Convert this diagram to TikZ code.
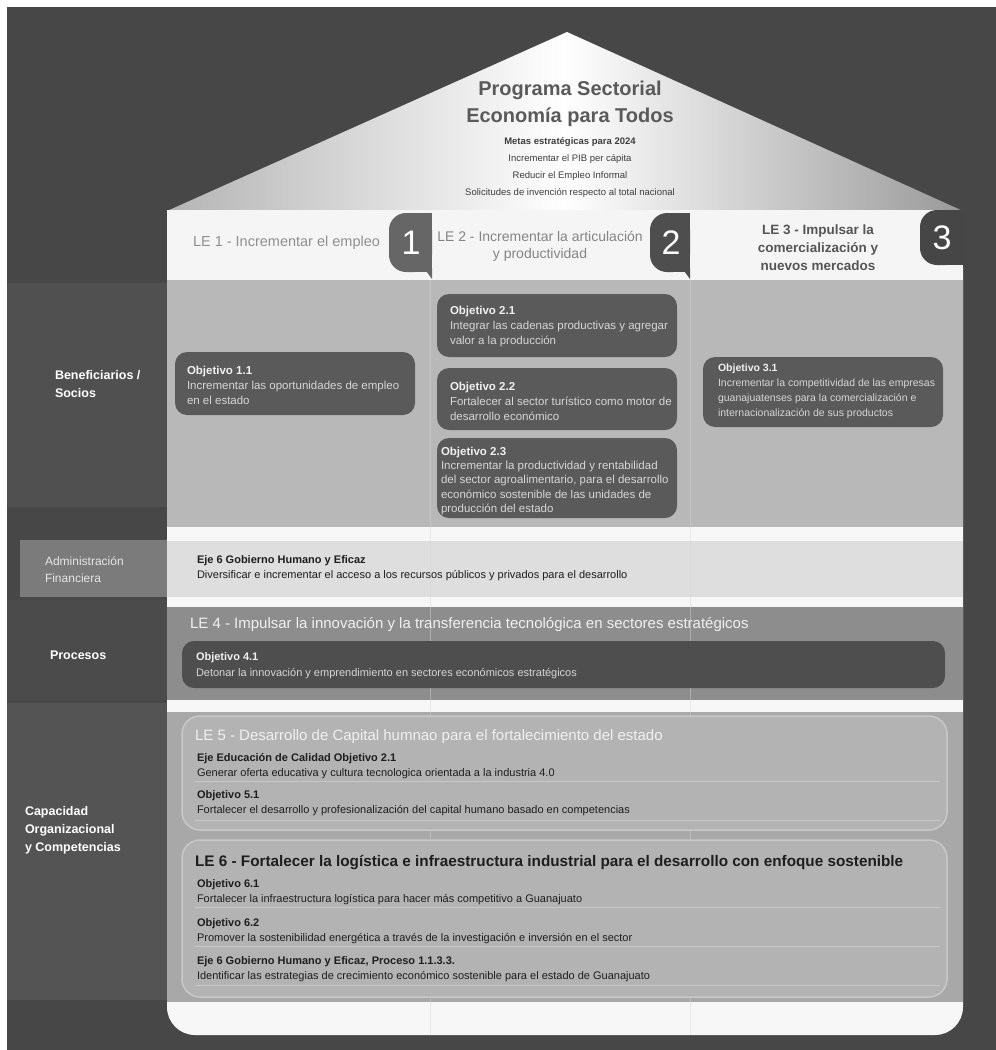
\documentclass[tikz,border=0pt]{standalone}
\usepackage{fontspec}
\setmainfont{Liberation Sans}
\definecolor{bgdark}{HTML}{474747}
\definecolor{lblA}{HTML}{505050}
\definecolor{lblAdm}{HTML}{7B7B7B}
\definecolor{lblProc}{HTML}{4B4B4B}
\definecolor{lblCap}{HTML}{545454}
\definecolor{roofgray}{HTML}{B4B4B4}
\definecolor{basewhite}{HTML}{F7F7F7}
\definecolor{headband}{HTML}{F5F5F5}
\definecolor{benef}{HTML}{B8B8B8}
\definecolor{admfill}{HTML}{DEDEDE}
\definecolor{procfill}{HTML}{8D8D8D}
\definecolor{capfill}{HTML}{A8A8A8}
\definecolor{panelfill}{HTML}{B3B3B3}
\definecolor{panelline}{HTML}{C8C8C8}
\definecolor{objfill}{HTML}{5A5A5A}
\definecolor{obj4fill}{HTML}{4E4E4E}
\definecolor{tabA}{HTML}{666666}
\definecolor{tabB}{HTML}{4E4E4E}
\definecolor{tabC}{HTML}{464646}
\definecolor{titlegray}{HTML}{5A5A5A}
\definecolor{metasgray}{HTML}{3E3E3E}
\definecolor{leA}{HTML}{909090}
\definecolor{leB}{HTML}{858585}
\definecolor{leC}{HTML}{555555}
\definecolor{objhead}{HTML}{F0F0F0}
\definecolor{objbody}{HTML}{D6D6D6}
\definecolor{darktext}{HTML}{1E1E1E}
\definecolor{sepc}{HTML}{D4D4D4}
\begin{document}
\begin{tikzpicture}[x=1pt,y=-1pt,
  txt/.style={inner sep=0pt, outer sep=0pt, align=left, anchor=north west},
  ctxt/.style={inner sep=0pt, outer sep=0pt, align=center, anchor=north},
  objbox/.style={fill=objfill, rounded corners=12pt},
  objtxt/.style={txt, text=objbody, font=\fontsize{11.5}{15}\selectfont},
  lbl/.style={txt, text=white, font=\bfseries\fontsize{12.5}{18}\selectfont},
  body/.style={txt, text=darktext, font=\fontsize{11}{15}\selectfont},
  lehead/.style={txt, text=objhead, font=\fontsize{15}{18}\selectfont},
  num/.style={inner sep=0pt, text=white, font=\fontsize{34}{34}\selectfont},
  sepline/.style={draw=sepc, line width=0.7pt, opacity=0.45},
  panel/.style={fill=panelfill, draw=panelline, line width=1.5pt, rounded corners=18pt},
  subsep/.style={draw=panelline, line width=0.6pt}]
\useasboundingbox (0,0) rectangle (996,1050);
\fill[white] (0,0) rectangle (996,1050);
\fill[bgdark] (7,7) rectangle (996,1050);
% left label panels
\fill[lblA] (7,283) rectangle (167,507);
\fill[lblAdm] (20,540) rectangle (167,597);
\fill[lblProc] (7,600) rectangle (167,700);
\fill[lblCap] (7,703) rectangle (167,1000);
% roof
\shade[left color=roofgray, right color=roofgray!85!black, middle color=white] (167,211) -- (567,32) -- (963,211) -- cycle;
% body
\fill[basewhite, rounded corners=28pt] (167,240) rectangle (963,1035);
\fill[headband] (167,210) rectangle (963,280);
\fill[benef] (167,280) rectangle (963,527);
\fill[admfill] (167,541) rectangle (963,597);
\fill[procfill] (167,607) rectangle (963,700);
\fill[capfill] (167,712) rectangle (963,1002);
% column separators
\draw[sepline] (430,280) -- (430,1035);
\draw[sepline] (690,280) -- (690,1035);
% tabs
\fill[tabA, rounded corners=17pt] (389,213) rectangle (432,272);
\fill[tabA] (412,213) rectangle (432,272);
\fill[tabA] (424,268) -- (432,268) -- (432,279) -- cycle;
\fill[tabB, rounded corners=17pt] (650,213) rectangle (690,272);
\fill[tabB] (672,213) rectangle (690,272);
\fill[tabB] (682,268) -- (690,268) -- (690,279) -- cycle;
\fill[tabC, rounded corners=17pt] (920,210) rectangle (963,265);
\fill[tabC] (945,210) rectangle (963,265);
\node[num] (n1) at (411,243) {1};
\node[num] (n2) at (671,243) {2};
\node[num] (n3) at (942,238) {3};
% title
\node[ctxt, text=titlegray, font=\bfseries\fontsize{20}{27}\selectfont] (title) at (570,81) {Programa Sectorial\\Economía para Todos};
\node[ctxt, text=metasgray, font=\bfseries\fontsize{9.5}{17}\selectfont] (metas) at (570,137.5) {Metas estratégicas para 2024};
\node[ctxt, text=metasgray, font=\fontsize{9.5}{17}\selectfont] (metaslist) at (570,154.6) {Incrementar el PIB per cápita\\Reducir el Empleo Informal\\Solicitudes de invención respecto al total nacional};
% LE headers
\node[txt, text=leA, font=\fontsize{14.5}{17}\selectfont] (le1) at (193,236) {LE 1 - Incrementar el empleo};
\node[ctxt, text=leB, font=\fontsize{14}{17}\selectfont] (le2) at (540,231) {LE 2 - Incrementar la articulación\\y productividad};
\node[ctxt, text=leC, font=\bfseries\fontsize{13.5}{18}\selectfont] (le3) at (818,225) {LE 3 - Impulsar la\\comercialización y\\nuevos mercados};
% left labels
\node[lbl] (lbenef) at (55,370.5) {Beneficiarios /\\Socios};
\node[txt, text=white!90!black, font=\fontsize{12}{17}\selectfont] (ladm) at (45,557) {Administración\\Financiera};
\node[lbl] (lproc) at (50,650.5) {Procesos};
\node[lbl] (lcap) at (25,806.5) {Capacidad\\Organizacional\\y Competencias};
% objective boxes
\fill[objbox] (175,352) rectangle (415,415);
\fill[objbox] (437,294) rectangle (677,357);
\fill[objbox] (437,368) rectangle (677,430);
\fill[objbox] (437,438) rectangle (677,518);
\fill[objbox] (703,357) rectangle (943,427);
\node[objtxt] (o11) at (187,366) {\textbf{\color{objhead}Objetivo 1.1}\\Incrementar las oportunidades de empleo\\en el estado};
\node[objtxt] (o21) at (450,306) {\textbf{\color{objhead}Objetivo 2.1}\\Integrar las cadenas productivas y agregar\\valor a la producción};
\node[objtxt] (o22) at (450,382) {\textbf{\color{objhead}Objetivo 2.2}\\Fortalecer al sector turístico como motor de\\desarrollo económico};
\node[objtxt, font=\fontsize{11.5}{14.3}\selectfont] (o23) at (441,447) {\textbf{\color{objhead}Objetivo 2.3}\\Incrementar la productividad y rentabilidad\\del sector agroalimentario, para el desarrollo\\económico sostenible de las unidades de\\producción del estado};
\node[objtxt, font=\fontsize{10.5}{15}\selectfont] (o31) at (718,364) {\textbf{\color{objhead}Objetivo 3.1}\\Incrementar la competitividad de las empresas\\guanajuatenses para la comercialización e\\internacionalización de sus productos};
% administracion band
\node[body] (eje6) at (197,556) {\textbf{Eje 6 Gobierno Humano y Eficaz}\\Diversificar e incrementar el acceso a los recursos públicos y privados para el desarrollo};
% procesos
\node[lehead] (le4) at (190,617) {LE 4 - Impulsar la innovación y la transferencia tecnológica en sectores estratégicos};
\fill[fill=obj4fill, rounded corners=12pt] (182,641) rectangle (945,688);
\node[objtxt, font=\fontsize{11}{16}\selectfont] (o41) at (196,653) {\textbf{\color{objhead}Objetivo 4.1}\\Detonar la innovación y emprendimiento en sectores económicos estratégicos};
% LE5 panel
\fill[panel] (182,716) rectangle (947,830);
\draw[subsep] (195,781) -- (940,781);
\draw[subsep] (195,820) -- (940,820);
\node[lehead] (le5) at (195,730) {LE 5 - Desarrollo de Capital humnao para el fortalecimiento del estado};
\node[body] (e21) at (197,753) {\textbf{Eje Educación de Calidad Objetivo 2.1}\\Generar oferta educativa y cultura tecnologica orientada a la industria 4.0};
\node[body] (o51) at (197,791) {\textbf{Objetivo 5.1}\\Fortalecer el desarrollo y profesionalización del capital humano basado en competencias};
% LE6 panel
\fill[panel] (182,840) rectangle (947,997);
\draw[subsep] (195,907) -- (940,907);
\draw[subsep] (195,946) -- (940,946);
\draw[subsep] (195,985) -- (940,985);
\node[txt, text=darktext, font=\bfseries\fontsize{15.3}{18}\selectfont] (le6) at (195,855) {LE 6 - Fortalecer la logística e infraestructura industrial para el desarrollo con enfoque sostenible};
\node[body] (o61) at (197,880) {\textbf{Objetivo 6.1}\\Fortalecer la infraestructura logística para hacer más competitivo a Guanajuato};
\node[body] (o62) at (197,919) {\textbf{Objetivo 6.2}\\Promover la sostenibilidad energética a través de la investigación e inversión en el sector};
\node[body] (p1133) at (197,957) {\textbf{Eje 6 Gobierno Humano y Eficaz, Proceso 1.1.3.3.}\\Identificar las estrategias de crecimiento económico sostenible para el estado de Guanajuato};
\end{tikzpicture}
\end{document}
